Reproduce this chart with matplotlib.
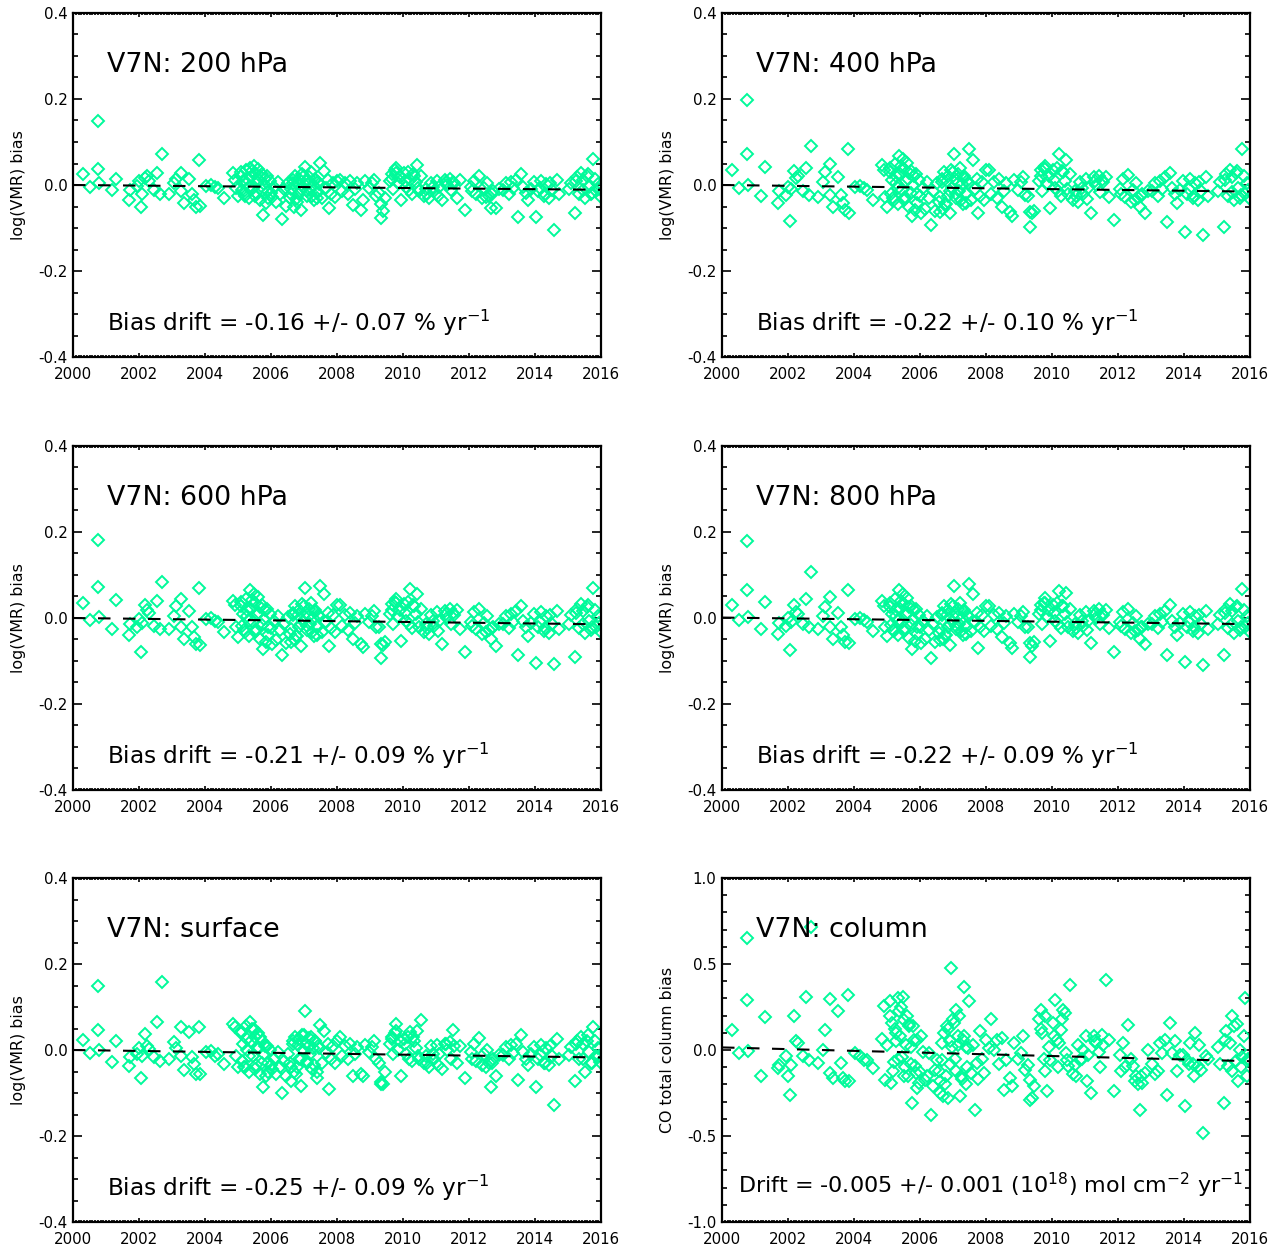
import numpy as np
import matplotlib
matplotlib.use("Agg")
import matplotlib.pyplot as plt
from matplotlib import font_manager
from matplotlib.ticker import MultipleLocator, FormatStrFormatter

# measurement times, years after 2000.0 (same dates for every level)
dates = [
    0.31, 0.51, 0.76, 0.77, 0.79, 1.17, 1.30, 1.71, 1.73, 1.94,
    1.99, 2.06, 2.09, 2.19, 2.24, 2.30, 2.45, 2.55, 2.65, 2.70,
    2.91, 3.06, 3.11, 3.26, 3.28, 3.37, 3.52, 3.62, 3.67, 3.72,
    3.82, 3.84, 4.03, 4.18, 4.29, 4.39, 4.59, 4.85, 4.90, 4.95, 5.00,
    5.08, 5.12, 5.16, 5.20, 5.24, 5.28, 5.32, 5.36, 5.40, 5.44, 5.48, 5.52, 5.56, 5.60, 5.64, 5.68,
    5.72, 5.77, 5.80, 5.84, 5.88, 5.92, 5.98, 6.04, 6.10, 6.16, 6.22, 6.28, 6.33, 6.38, 6.44, 6.50,
    6.58, 6.62, 6.66, 6.70, 6.74, 6.78, 6.82, 6.86, 6.90, 6.94, 6.98, 7.02, 7.06, 7.10, 7.14, 7.18,
    7.22, 7.26, 7.30, 7.34, 7.38, 7.42, 7.48, 7.54, 7.60, 7.66, 7.72, 7.76, 7.82, 7.88, 7.94, 8.00,
    8.08, 8.16, 8.24, 8.32, 8.40, 8.47, 8.54, 8.62, 8.72, 8.78, 8.86, 8.96, 9.06, 9.13, 9.18, 9.26,
    9.32, 9.34, 9.38, 9.44,
    9.62, 9.66, 9.70, 9.75, 9.78, 9.84, 9.90, 9.95, 10.02, 10.08, 10.14, 10.20, 10.26, 10.32, 10.38,
    10.41, 10.48, 10.56,
    10.64, 10.70, 10.78, 10.86, 10.94, 11.02, 11.10, 11.17, 11.26, 11.34, 11.42, 11.52, 11.63, 11.72, 11.89,
    12.06, 12.14, 12.22, 12.30, 12.38, 12.46, 12.54, 12.62, 12.66, 12.74, 12.82, 12.92,
    13.04, 13.12, 13.20, 13.27, 13.34, 13.42, 13.47, 13.57, 13.64, 13.72, 13.78, 13.88,
    13.98, 14.03, 14.10, 14.18, 14.26, 14.34, 14.42, 14.50, 14.59, 14.66, 14.74,
    15.02, 15.10, 15.20, 15.28, 15.34, 15.40, 15.46, 15.52, 15.58, 15.64, 15.70, 15.77, 15.84, 15.90, 15.96,
    # busier periods
    5.10, 5.18, 5.26, 5.34, 5.42, 5.50, 5.58, 5.66, 5.74, 5.82, 5.90, 6.00,
    6.60, 6.68, 6.76, 6.84, 6.92, 7.00, 7.08, 7.16, 7.24, 7.32, 7.40, 7.46,
    9.68, 9.80, 10.05, 10.17, 10.29, 10.44,
    10.74, 10.90, 11.06, 11.30, 11.46, 11.56,
    12.10, 12.50, 12.70,
    14.14, 14.30, 14.46,
    15.24, 15.44, 15.60, 15.74, 15.82, 15.93,
]

bias_200 = [
    0.026, -0.005, 0.148, 0.038, 0.005, -0.012, 0.014, -0.034, -0.011, -0.003,
    0.009, -0.050, -0.020, 0.016, 0.022, 0.009, -0.011, 0.029, -0.022, 0.071,
    -0.020, 0.005, 0.014, 0.029, -0.015, -0.042, 0.014, -0.022, -0.034, -0.050,
    0.059, -0.048, -0.002, 0.001, -0.005, -0.007, -0.030, 0.029, 0.012, -0.007, -0.026,
    0.022, -0.012, 0.010, -0.025, 0.035, 0.004, -0.030, 0.040, 0.018, -0.008, 0.045, 0.028, -0.018, 0.038, 0.012, -0.035,
    0.025, -0.069, 0.002, -0.042, 0.020, -0.015, 0.010, -0.028, -0.005, -0.040, 0.006, -0.022, -0.079, -0.010, -0.048, 0.004,
    -0.030, -0.010, 0.012, -0.050, 0.020, -0.040, 0.005, -0.020, -0.057, 0.025, -0.005, 0.043, 0.010, -0.025, 0.018, -0.012,
    0.030, 0.000, -0.035, 0.015, -0.018, 0.008, 0.051, -0.030, 0.033, -0.008, 0.012, -0.053, -0.020, 0.005, -0.028, 0.010,
    0.012, -0.015, 0.005, -0.022, 0.010, -0.046, -0.010, 0.004, -0.057, -0.034, 0.009, -0.008, 0.004, 0.012, -0.026, -0.018,
    -0.045, -0.077, -0.060, -0.030,
    0.010, 0.025, -0.010, 0.034, 0.040, 0.005, 0.018, -0.034, 0.028, -0.005, 0.030, 0.012, -0.020, 0.022, 0.008,
    0.047, -0.015, 0.020,
    -0.025, -0.010, -0.030, 0.005, -0.015, 0.010, -0.005, -0.034, 0.012, 0.000, 0.015, 0.008, -0.030, 0.012, -0.057,
    -0.005, 0.010, -0.020, 0.020, -0.030, -0.008, 0.005, -0.025, -0.053, -0.015, -0.053, -0.010,
    -0.012, 0.004, -0.020, 0.006, -0.008, 0.012, -0.074, 0.026, -0.005, -0.018, -0.034, -0.010,
    0.008, -0.074, -0.015, 0.010, -0.025, 0.002, -0.030, -0.012, -0.104, 0.012, -0.020,
    -0.010, 0.005, -0.064, 0.018, -0.020, 0.028, 0.012, -0.030, 0.020, -0.005, -0.022, 0.060, -0.015, 0.002, -0.025,
    0.030, -0.020, 0.015, -0.005, 0.032, -0.025, 0.008, 0.020, -0.012, 0.015, -0.030, -0.018,
    -0.020, 0.005, -0.032, 0.015, -0.010, 0.022, -0.015, 0.004, -0.025, 0.012, -0.030, 0.002,
    0.015, 0.028, 0.010, -0.012, 0.025, -0.008,
    -0.020, -0.005, -0.025, 0.008, -0.012, 0.005,
    -0.015, -0.028, -0.020,
    -0.008, -0.020, 0.005,
    0.010, -0.012, 0.025, -0.018, 0.015, -0.010,
]

bias_400 = [
    0.036, -0.008, 0.197, 0.073, 0.000, -0.025, 0.041, -0.043, -0.015, -0.023,
    -0.005, -0.083, -0.010, 0.033, 0.016, 0.020, -0.015, 0.039, -0.023, 0.090,
    -0.027, 0.008, 0.031, 0.050, -0.023, -0.052, 0.019, -0.023, -0.043, -0.058,
    0.083, -0.066, -0.004, -0.002, -0.008, -0.012, -0.035, 0.046, 0.035, -0.027, -0.050,
    0.030, -0.020, 0.012, -0.035, 0.050, 0.005, -0.045, 0.067, 0.025, -0.012, 0.060, 0.038, -0.028, 0.052, 0.015, -0.050,
    0.032, -0.073, 0.000, -0.058, 0.025, -0.022, 0.012, -0.064, -0.008, -0.055, 0.008, -0.030, -0.093, -0.015, -0.060, 0.004,
    -0.040, -0.062, 0.015, -0.055, 0.030, -0.045, 0.010, -0.025, -0.066, 0.035, -0.008, 0.073, 0.015, -0.030, 0.025, -0.015,
    0.040, 0.002, -0.045, 0.020, -0.022, 0.010, 0.083, -0.035, 0.058, -0.010, 0.015, -0.066, -0.025, 0.008, -0.035, 0.035,
    0.035, -0.020, 0.008, -0.030, 0.015, -0.050, -0.015, 0.005, -0.062, -0.073, 0.012, -0.012, 0.006, 0.019, -0.023, -0.025,
    -0.062, -0.097, -0.066, -0.060,
    0.010, 0.035, -0.015, 0.040, 0.044, 0.005, 0.020, -0.054, 0.035, -0.008, 0.040, 0.073, -0.025, 0.030, 0.010,
    0.058, -0.020, 0.025,
    -0.035, -0.015, -0.040, 0.008, -0.020, 0.015, -0.008, -0.066, 0.018, 0.000, 0.022, 0.012, 0.019, -0.027, -0.081,
    -0.010, 0.015, -0.028, 0.023, -0.040, -0.012, 0.005, -0.030, -0.050, -0.020, -0.066, -0.015,
    -0.015, 0.005, -0.025, 0.010, -0.010, 0.018, -0.087, 0.027, -0.008, -0.022, -0.043, -0.012,
    0.010, -0.110, -0.020, 0.015, -0.030, 0.005, -0.035, -0.015, -0.116, 0.018, -0.025,
    -0.015, 0.008, -0.097, 0.025, -0.025, 0.035, 0.018, -0.035, 0.028, -0.008, -0.030, 0.083, -0.020, 0.005, -0.030,
    0.040, -0.030, 0.020, -0.008, 0.045, -0.035, 0.010, 0.028, -0.018, 0.020, -0.042, -0.025,
    -0.028, 0.008, -0.045, 0.020, -0.015, 0.030, -0.020, 0.005, -0.035, 0.016, -0.042, 0.004,
    0.020, 0.038, 0.012, -0.015, 0.032, -0.010,
    -0.026, -0.008, -0.032, 0.010, -0.016, 0.006,
    -0.020, -0.035, -0.026,
    -0.010, -0.026, 0.006,
    0.012, -0.016, 0.032, -0.024, 0.020, -0.012,
]

bias_600 = [
    0.035, -0.005, 0.182, 0.072, 0.002, -0.025, 0.043, -0.040, -0.015, -0.020,
    -0.002, -0.079, -0.012, 0.030, 0.018, 0.012, -0.018, 0.040, -0.025, 0.084,
    -0.025, 0.005, 0.028, 0.045, -0.020, -0.050, 0.016, -0.020, -0.045, -0.060,
    0.070, -0.062, -0.003, -0.001, -0.006, -0.010, -0.032, 0.040, 0.030, -0.022, -0.045,
    0.028, -0.018, 0.010, -0.032, 0.045, 0.004, -0.042, 0.064, 0.022, -0.010, 0.055, 0.035, -0.025, 0.048, 0.012, -0.048,
    0.030, -0.071, -0.002, -0.055, 0.022, -0.020, 0.010, -0.060, -0.008, -0.052, 0.005, -0.028, -0.087, -0.015, -0.058, 0.002,
    -0.038, -0.055, 0.012, -0.050, 0.028, -0.042, 0.008, -0.022, -0.064, 0.032, -0.008, 0.070, 0.012, -0.028, 0.022, -0.015,
    0.036, 0.000, -0.042, 0.018, -0.020, 0.008, 0.074, -0.032, 0.055, -0.010, 0.012, -0.064, -0.024, 0.006, -0.032, 0.030,
    0.030, -0.018, 0.006, -0.028, 0.012, -0.048, -0.012, 0.004, -0.060, -0.067, 0.010, -0.010, 0.005, 0.016, -0.022, -0.022,
    -0.060, -0.092, -0.062, -0.055,
    0.010, 0.032, -0.015, 0.038, 0.045, 0.004, 0.018, -0.054, 0.032, -0.008, 0.038, 0.068, -0.024, 0.028, 0.010,
    0.055, -0.020, 0.022,
    -0.032, -0.014, -0.038, 0.006, -0.018, 0.014, -0.008, -0.061, 0.016, 0.000, 0.020, 0.012, 0.018, -0.025, -0.079,
    -0.010, 0.014, -0.026, 0.022, -0.038, -0.012, 0.005, -0.028, -0.048, -0.020, -0.064, -0.015,
    -0.015, 0.005, -0.024, 0.010, -0.010, 0.016, -0.087, 0.028, -0.008, -0.022, -0.042, -0.012,
    0.010, -0.105, -0.020, 0.014, -0.030, 0.004, -0.034, -0.015, -0.106, 0.016, -0.025,
    -0.015, 0.008, -0.091, 0.022, -0.024, 0.032, 0.016, -0.034, 0.025, -0.008, -0.028, 0.070, -0.020, 0.004, -0.030,
    0.038, -0.028, 0.018, -0.008, 0.042, -0.032, 0.010, 0.026, -0.016, 0.018, -0.040, -0.024,
    -0.026, 0.008, -0.042, 0.018, -0.014, 0.028, -0.018, 0.005, -0.032, 0.015, -0.040, 0.004,
    0.018, 0.035, 0.012, -0.014, 0.030, -0.010,
    -0.024, -0.008, -0.030, 0.010, -0.015, 0.006,
    -0.018, -0.032, -0.024,
    -0.010, -0.024, 0.006,
    0.012, -0.015, 0.030, -0.022, 0.018, -0.012,
]

bias_800 = [
    0.030, -0.005, 0.179, 0.066, 0.003, -0.025, 0.038, -0.038, -0.012, -0.018,
    0.000, -0.074, -0.010, 0.030, 0.015, 0.010, -0.015, 0.045, -0.022, 0.107,
    -0.025, 0.005, 0.025, 0.048, -0.020, -0.048, 0.012, -0.020, -0.040, -0.055,
    0.066, -0.058, -0.002, 0.000, -0.005, -0.010, -0.030, 0.040, 0.028, -0.020, -0.042,
    0.026, -0.016, 0.010, -0.030, 0.044, 0.004, -0.040, 0.066, 0.020, -0.010, 0.055, 0.032, -0.024, 0.046, 0.012, -0.046,
    0.028, -0.071, -0.002, -0.054, 0.020, -0.020, 0.008, -0.058, -0.008, -0.050, 0.004, -0.028, -0.092, -0.014, -0.056, 0.002,
    -0.036, -0.052, 0.012, -0.048, 0.028, -0.040, 0.008, -0.020, -0.062, 0.032, -0.006, 0.075, 0.012, -0.026, 0.022, -0.014,
    0.035, 0.000, -0.040, 0.018, -0.020, 0.008, 0.078, -0.030, 0.055, -0.010, 0.012, -0.069, -0.022, 0.006, -0.030, 0.028,
    0.028, -0.018, 0.006, -0.026, 0.012, -0.045, -0.012, 0.004, -0.058, -0.070, 0.010, -0.010, 0.005, 0.015, -0.020, -0.022,
    -0.058, -0.091, -0.065, -0.055,
    0.010, 0.030, -0.014, 0.036, 0.047, 0.004, 0.018, -0.054, 0.030, -0.008, 0.036, 0.063, -0.024, 0.028, 0.010,
    0.057, -0.020, 0.022,
    -0.030, -0.014, -0.036, 0.006, -0.018, 0.014, -0.008, -0.058, 0.016, 0.000, 0.020, 0.010, 0.018, -0.024, -0.078,
    -0.010, 0.014, -0.026, 0.022, -0.036, -0.012, 0.004, -0.028, -0.048, -0.020, -0.060, -0.015,
    -0.015, 0.005, -0.024, 0.010, -0.010, 0.016, -0.085, 0.030, -0.008, -0.022, -0.040, -0.012,
    0.010, -0.102, -0.020, 0.014, -0.030, 0.004, -0.034, -0.015, -0.110, 0.016, -0.025,
    -0.015, 0.008, -0.085, 0.022, -0.024, 0.032, 0.016, -0.034, 0.025, -0.008, -0.028, 0.068, -0.020, 0.004, -0.030,
    0.036, -0.027, 0.018, -0.007, 0.040, -0.030, 0.010, 0.025, -0.016, 0.018, -0.038, -0.022,
    -0.025, 0.008, -0.040, 0.018, -0.013, 0.027, -0.018, 0.005, -0.030, 0.014, -0.038, 0.004,
    0.018, 0.034, 0.012, -0.014, 0.028, -0.010,
    -0.023, -0.008, -0.028, 0.010, -0.014, 0.006,
    -0.018, -0.030, -0.022,
    -0.010, -0.022, 0.006,
    0.012, -0.014, 0.028, -0.020, 0.018, -0.012,
]

bias_sfc = [
    0.023, -0.008, 0.149, 0.046, 0.000, -0.028, 0.022, -0.037, -0.017, -0.010,
    0.005, -0.064, -0.015, 0.037, 0.010, 0.002, -0.017, 0.064, -0.025, 0.158,
    -0.020, 0.018, 0.005, 0.054, -0.015, -0.047, 0.043, -0.017, -0.033, -0.055,
    0.053, -0.055, -0.005, -0.002, -0.013, -0.010, -0.033, 0.061, 0.053, -0.015, -0.040,
    0.040, -0.025, 0.015, -0.040, 0.055, 0.000, -0.050, 0.065, 0.020, -0.015, 0.050, 0.030, -0.035, 0.040, 0.005, -0.055,
    0.020, -0.087, -0.010, -0.060, 0.010, -0.030, 0.000, -0.045, -0.020, -0.055, -0.005, -0.040, -0.101, -0.025, -0.060, -0.010,
    -0.030, -0.072, 0.020, -0.050, 0.030, -0.040, 0.012, -0.020, -0.083, 0.035, 0.000, 0.090, 0.015, -0.025, 0.028, -0.010,
    0.030, 0.005, -0.035, 0.020, -0.064, 0.010, 0.058, -0.030, 0.045, -0.008, 0.015, -0.091, -0.020, 0.010, -0.030, 0.020,
    0.030, -0.015, 0.010, -0.020, 0.015, -0.060, -0.010, 0.008, -0.055, -0.060, 0.012, -0.005, 0.008, 0.020, -0.020, -0.030,
    -0.075, -0.080, -0.078, -0.050,
    0.015, 0.030, -0.010, 0.040, 0.061, 0.000, 0.020, -0.060, 0.025, -0.010, 0.030, 0.041, -0.025, 0.020, 0.005,
    0.045, -0.020, 0.070,
    -0.030, -0.015, -0.040, 0.010, -0.020, 0.012, -0.010, -0.045, 0.015, 0.000, 0.018, 0.047, -0.030, 0.010, -0.064,
    -0.005, 0.015, -0.025, 0.028, -0.035, -0.010, 0.000, -0.030, -0.085, -0.020, -0.060, -0.012,
    -0.012, 0.008, -0.020, 0.012, -0.008, 0.015, -0.070, 0.036, -0.005, -0.020, -0.035, -0.010,
    0.008, -0.086, -0.020, 0.012, -0.030, 0.005, -0.035, -0.015, -0.128, 0.025, -0.022,
    -0.012, 0.008, -0.073, 0.020, -0.022, 0.030, 0.015, -0.050, 0.022, -0.005, -0.030, 0.054, -0.015, 0.005, -0.028,
    0.045, -0.040, 0.025, -0.015, 0.050, -0.045, 0.005, 0.030, -0.030, 0.010, -0.050, -0.035,
    -0.040, 0.015, -0.055, 0.025, -0.020, 0.035, -0.030, 0.010, -0.045, 0.020, -0.050, 0.005,
    0.025, 0.045, 0.015, -0.020, 0.030, -0.015,
    -0.030, -0.010, -0.035, 0.015, -0.020, 0.010,
    -0.020, -0.040, -0.030,
    -0.012, -0.030, 0.010,
    0.015, -0.020, 0.035, -0.030, 0.020, -0.015,
]

# total column bias, 1e18 molec cm-2
bias_col = [
    0.118, -0.017, 0.653, 0.290, -0.008, -0.153, 0.189, -0.104, -0.090, -0.037,
    -0.153, -0.259, -0.085, 0.195, 0.050, 0.040, -0.037, 0.307, -0.060, 0.716,
    -0.075, 0.002, 0.118, 0.297, -0.133, -0.160, 0.228, -0.075, -0.160, -0.181,
    0.317, -0.181, -0.017, -0.037, -0.056, -0.056, -0.104, 0.064, 0.253, -0.172, 0.027,
    0.282, -0.191, 0.156, -0.070, 0.120, 0.050, 0.300, 0.224, 0.080, -0.040, 0.310, 0.176, -0.100, 0.200, -0.153, 0.137,
    0.020, -0.307, 0.137, -0.095, -0.133, 0.060, -0.191, 0.079, -0.010, -0.172, -0.153, -0.017, -0.375, -0.211, -0.114, -0.060,
    -0.120, -0.249, -0.060, -0.270, 0.098, -0.150, 0.137, -0.279, 0.050, 0.475, 0.020, 0.156, -0.050, 0.234, 0.080, 0.195,
    -0.268, -0.170, 0.060, 0.369, 0.020, -0.100, 0.282, -0.133, 0.030, -0.346, -0.075, -0.170, 0.108, -0.050, -0.133, 0.060,
    0.010, 0.180, 0.000, 0.060, -0.080, 0.070, -0.230, -0.060, -0.165, -0.210, 0.040, -0.050, -0.020, 0.079, -0.114, -0.090,
    -0.172, -0.288, -0.279, -0.210,
    0.180, 0.234, 0.100, -0.050, -0.124, -0.239, 0.020, -0.056, 0.156, 0.290, 0.060, 0.040, 0.118, 0.234, 0.214,
    -0.020, -0.095, 0.378,
    -0.140, -0.090, 0.030, -0.060, 0.000, 0.080, -0.030, -0.249, 0.080, 0.040, -0.010, 0.090, 0.407, 0.060, -0.239,
    -0.030, 0.040, -0.100, 0.143, -0.050, -0.095, -0.153, -0.200, -0.346, -0.192, -0.133, 0.002,
    -0.080, -0.140, -0.120, 0.040, -0.020, 0.060, -0.259, 0.156, -0.017, 0.050, -0.124, -0.030,
    -0.030, -0.326, -0.056, 0.040, -0.080, 0.098, -0.095, -0.114, -0.481, -0.037, -0.050,
    0.020, -0.080, -0.307, 0.108, -0.095, 0.040, 0.195, 0.137, -0.066, -0.181, 0.002, -0.040, 0.301, -0.153, -0.060,
    0.200, -0.120, 0.100, -0.050, 0.250, -0.150, 0.030, 0.150, -0.080, 0.060, -0.220, -0.130,
    -0.180, 0.040, -0.200, 0.120, -0.080, 0.180, -0.120, 0.030, -0.150, 0.080, -0.200, 0.010,
    0.120, 0.200, 0.080, -0.100, 0.180, -0.060,
    -0.150, -0.050, -0.180, 0.050, -0.100, 0.030,
    -0.120, -0.180, -0.150,
    -0.080, -0.150, 0.030,
    0.060, -0.120, 0.150, -0.100, 0.080, -0.050,
]

titles = ["V7N: 200 hPa", "V7N: 400 hPa", "V7N: 600 hPa", "V7N: 800 hPa",
          "V7N: surface", "V7N: column"]
series = [bias_200, bias_400, bias_600, bias_800, bias_sfc, bias_col]
drift = [-0.16, -0.22, -0.21, -0.22, -0.25, -0.005]
drift_err = [0.07, 0.10, 0.09, 0.09, 0.09, 0.001]
offset = [0.0, 0.0, 0.0, 0.001, 0.0, 0.015]

# font: condensed DejaVu if it is there
names = {f.name for f in font_manager.fontManager.ttflist}
if "DejaVu Sans Condensed" in names:
    family, fs = "DejaVu Sans Condensed", 1.0
else:
    family, fs = "DejaVu Sans", 0.9
plt.rcParams["font.family"] = [family, "DejaVu Sans"]
plt.rcParams["axes.unicode_minus"] = False

GREEN = "#00FA9A"
W, H = 1279, 1248
lefts = [73, 722]
tops = [13, 446, 878]
aw, ah = 528, 344

fig = plt.figure(figsize=(W / 100, H / 100), dpi=100)
x = 2000 + np.array(dates)
xl = np.array([2000.0, 2016.0])

for k in range(6):
    r, c = divmod(k, 2)
    ax = fig.add_axes([lefts[c] / W, 1 - (tops[r] + ah) / H, aw / W, ah / H])
    is_col = (k == 5)

    ax.plot(x, series[k], ls="none", marker="D", ms=6.2, mew=1.4,
            mfc="none", mec=GREEN, zorder=2)

    if is_col:
        slope = drift[k]
    else:
        # drift in % per year of a log10 quantity
        slope = drift[k] / 100.0 / np.log(10)
    ax.plot(xl, offset[k] + slope * (xl - 2000), color="black", lw=1.5,
            dashes=(6, 6), zorder=3)

    ax.set_xlim(2000, 2016)
    ax.xaxis.set_major_locator(MultipleLocator(2))
    ax.xaxis.set_minor_locator(MultipleLocator(1 / 12))
    ax.xaxis.set_major_formatter(FormatStrFormatter("%d"))
    if is_col:
        ax.set_ylim(-1.0, 1.0)
        ax.yaxis.set_major_locator(MultipleLocator(0.5))
        ax.yaxis.set_minor_locator(MultipleLocator(0.1))
        ax.set_ylabel("CO total column bias", fontsize=12.7 * fs, va="center")
    else:
        ax.set_ylim(-0.4, 0.4)
        ax.yaxis.set_major_locator(MultipleLocator(0.2))
        ax.yaxis.set_minor_locator(MultipleLocator(0.05))
        ax.set_ylabel("log(VMR) bias", fontsize=12.7 * fs, va="center")
    ax.yaxis.set_major_formatter(FormatStrFormatter("%.1f"))
    ax.yaxis.set_label_coords(-0.104, 0.5)

    ax.tick_params(which="both", direction="in", top=True, right=True,
                   width=1.2, labelsize=12 * fs)
    ax.tick_params(axis="x", which="major", length=3, pad=7)
    ax.tick_params(axis="x", which="minor", length=1.6)
    ax.tick_params(axis="y", which="major", length=6.5, pad=4)
    ax.tick_params(axis="y", which="minor", length=3.5)
    for s in ax.spines.values():
        s.set_linewidth(1.6)

    ax.text(0.0644, 0.828, titles[k], transform=ax.transAxes,
            fontsize=21.5 * fs, va="baseline", ha="left")
    if is_col:
        txt = ("Drift = %.3f +/- %.3f (10$^{18}$) mol cm$^{-2}$ yr$^{-1}$"
               % (drift[k], drift_err[k]))
        ax.text(0.030, 0.084, txt, transform=ax.transAxes,
                fontsize=17.8 * fs, va="baseline", ha="left")
    else:
        txt = "Bias drift = %.2f +/- %.2f %% yr$^{-1}$" % (drift[k], drift_err[k])
        ax.text(0.0644, 0.0756, txt, transform=ax.transAxes,
                fontsize=18.5 * fs, va="baseline", ha="left")

fig.savefig("out.png", dpi=100)
